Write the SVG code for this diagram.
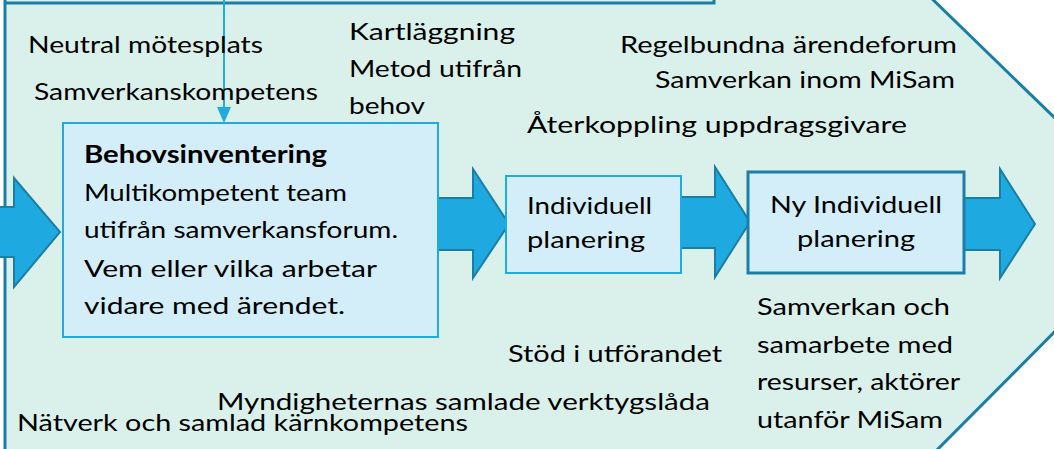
<svg xmlns="http://www.w3.org/2000/svg" width="1054" height="449" viewBox="0 0 1054 449">
<style>
.t{font-family:Lato,"Liberation Sans",sans-serif;font-size:24px;fill:#000}
.b{font-weight:bold}
.box{fill:#D3EEF8;stroke:#1FAAE0;stroke-width:2}
.box2{fill:#D3EEF8;stroke:#1A7EA6;stroke-width:3}
.arr{fill:#1EA9E1;stroke:#1A7EA6;stroke-width:2;stroke-linejoin:miter}
</style>
<g id="background">
<polygon points="5,-10 923,-10 1163,223 928,459 5,459" fill="#DAF0EA" stroke="#1A7EA6" stroke-width="3"/>
<polyline points="5,3 714,3 714,-2" fill="none" stroke="#1A7EA6" stroke-width="3"/>
</g>
<g id="connectors">
<line x1="224" y1="0" x2="224" y2="107" stroke="#1FAAE0" stroke-width="2"/>
<path d="M217,107 L231,107 L224,123 Z" fill="#1FAAE0"/>
<polygon class="arr" points="-5,207 14,207 14,178 60,232 14,287 14,257 -5,257"/>
<polygon class="arr" points="430,198 473,198 473,169 509,224 473,278 473,250 430,250"/>
<polygon class="arr" points="675,197 715,197 715,167 750,222 715,277 715,248 675,248"/>
<polygon class="arr" points="958,198 1000,198 1000,169 1035,224 1000,278 1000,250 958,250"/>
</g>
<g id="behovsinventering">
<rect class="box" x="63" y="123" width="375" height="214"/>
<text class="t b" x="84" y="163" textLength="243" lengthAdjust="spacingAndGlyphs">Behovsinventering</text>
<text class="t" x="84" y="201" textLength="263" lengthAdjust="spacingAndGlyphs">Multikompetent team</text>
<text class="t" x="84" y="238" textLength="314" lengthAdjust="spacingAndGlyphs">utifrån samverkansforum.</text>
<text class="t" x="84" y="277" textLength="293" lengthAdjust="spacingAndGlyphs">Vem eller vilka arbetar</text>
<text class="t" x="84" y="314" textLength="261" lengthAdjust="spacingAndGlyphs">vidare med ärendet.</text>
</g>
<g id="individuell">
<rect class="box" x="506" y="176" width="175" height="97"/>
<text class="t" x="527" y="214" textLength="125" lengthAdjust="spacingAndGlyphs">Individuell</text>
<text class="t" x="527" y="248" textLength="118" lengthAdjust="spacingAndGlyphs">planering</text>
</g>
<g id="ny-individuell">
<rect class="box2" x="748" y="172" width="216" height="101"/>
<text class="t" x="770" y="213" textLength="172" lengthAdjust="spacingAndGlyphs">Ny Individuell</text>
<text class="t" x="797" y="247" textLength="118" lengthAdjust="spacingAndGlyphs">planering</text>
</g>
<g id="labels">
<text class="t" x="28" y="53" textLength="235" lengthAdjust="spacingAndGlyphs">Neutral mötesplats</text>
<text class="t" x="34" y="100" textLength="284" lengthAdjust="spacingAndGlyphs">Samverkanskompetens</text>
<text class="t" x="349" y="40" textLength="166" lengthAdjust="spacingAndGlyphs">Kartläggning</text>
<text class="t" x="349" y="77" textLength="173" lengthAdjust="spacingAndGlyphs">Metod utifrån</text>
<text class="t" x="349" y="114" textLength="76" lengthAdjust="spacingAndGlyphs">behov</text>
<text class="t" x="620" y="53" textLength="337" lengthAdjust="spacingAndGlyphs">Regelbundna ärendeforum</text>
<text class="t" x="655" y="88" textLength="300" lengthAdjust="spacingAndGlyphs">Samverkan inom MiSam</text>
<text class="t" x="527" y="133" textLength="380" lengthAdjust="spacingAndGlyphs">Återkoppling uppdragsgivare</text>
<text class="t" x="508" y="362" textLength="214" lengthAdjust="spacingAndGlyphs">Stöd i utförandet</text>
<text class="t" x="217" y="410" textLength="493" lengthAdjust="spacingAndGlyphs">Myndigheternas samlade verktygslåda</text>
<text class="t" x="17" y="431" textLength="451" lengthAdjust="spacingAndGlyphs">Nätverk och samlad kärnkompetens</text>
<text class="t" x="757" y="315" textLength="193" lengthAdjust="spacingAndGlyphs">Samverkan och</text>
<text class="t" x="757" y="353" textLength="196" lengthAdjust="spacingAndGlyphs">samarbete med</text>
<text class="t" x="757" y="390" textLength="203" lengthAdjust="spacingAndGlyphs">resurser, aktörer</text>
<text class="t" x="757" y="428" textLength="186" lengthAdjust="spacingAndGlyphs">utanför MiSam</text>
</g>
</svg>
